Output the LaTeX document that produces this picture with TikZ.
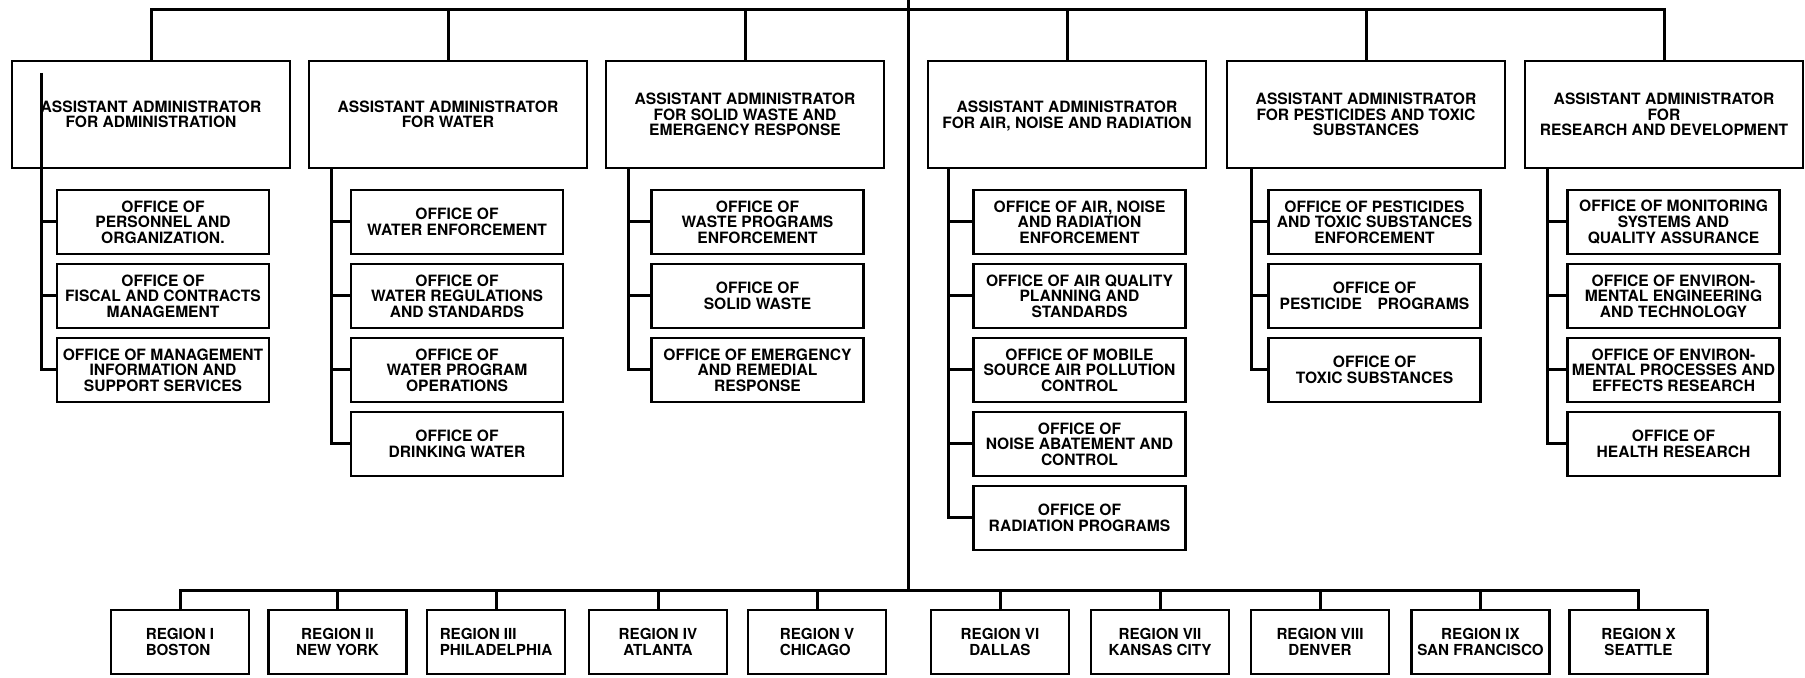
\documentclass[tikz,border=0pt]{standalone}
\usepackage{fontspec}
\setmainfont{TeX Gyre Heros}
\usetikzlibrary{positioning}

\tikzset{
  aabox/.style={draw, line width=1.45pt, minimum width=139pt, minimum height=53.5pt, inner sep=0pt, align=center},
  offbox/.style={draw, line width=1.45pt, minimum width=106pt, minimum height=32pt, inner sep=0pt, align=center},
  regbox/.style={draw, line width=1.45pt, minimum width=69pt, minimum height=32pt, inner sep=0pt, align=center, font=\bfseries\fontsize{7.6}{8.2}\selectfont}
}

\begin{document}
\begin{tikzpicture}[x=0.5pt, y=-0.5pt, font=\bfseries\fontsize{7.8}{7.8}\selectfont, line width=1.5pt]
\useasboundingbox (0,0) rectangle (1805,678);

% assistant administrators
\node (aa1) at (151,114.5) [aabox] {ASSISTANT ADMINISTRATOR\\FOR ADMINISTRATION};
\node (aa2) at (448,114.5) [aabox] {ASSISTANT ADMINISTRATOR\\FOR WATER};
\node (aa3) at (745,114.5) [aabox] {ASSISTANT ADMINISTRATOR\\FOR SOLID WASTE AND\\EMERGENCY RESPONSE};
\node (aa4) at (1067,114.5) [aabox, text depth=-2pt] {ASSISTANT ADMINISTRATOR\\FOR AIR, NOISE AND RADIATION};
\node (aa5) at (1366,114.5) [aabox] {ASSISTANT ADMINISTRATOR\\FOR PESTICIDES AND TOXIC\\SUBSTANCES};
\node (aa6) at (1664,114.5) [aabox] {ASSISTANT ADMINISTRATOR\\FOR\\RESEARCH AND DEVELOPMENT};

% offices under each one
\node (o11) at (163,222) [offbox] {OFFICE OF\\PERSONNEL AND\\ORGANIZATION.};
\node (o12) at (163,296) [offbox] {OFFICE OF\\FISCAL AND CONTRACTS\\MANAGEMENT};
\node (o13) at (163,370) [offbox] {OFFICE OF MANAGEMENT\\INFORMATION AND\\SUPPORT SERVICES};

\node (o21) at (457,222) [offbox] {OFFICE OF\\WATER ENFORCEMENT};
\node (o22) at (457,296) [offbox] {OFFICE OF\\WATER REGULATIONS\\AND STANDARDS};
\node (o23) at (457,370) [offbox] {OFFICE OF\\WATER PROGRAM\\OPERATIONS};
\node (o24) at (457,444) [offbox] {OFFICE OF\\DRINKING WATER};

\node (o31) at (757.5,222) [offbox] {OFFICE OF\\WASTE PROGRAMS\\ENFORCEMENT};
\node (o32) at (757.5,296) [offbox] {OFFICE OF\\SOLID WASTE};
\node (o33) at (757.5,370) [offbox] {OFFICE OF EMERGENCY\\AND REMEDIAL\\RESPONSE};

\node (o41) at (1079.5,222) [offbox] {OFFICE OF AIR, NOISE\\AND RADIATION\\ENFORCEMENT};
\node (o42) at (1079.5,296) [offbox] {OFFICE OF AIR QUALITY\\PLANNING AND\\STANDARDS};
\node (o43) at (1079.5,370) [offbox] {OFFICE OF MOBILE\\SOURCE AIR POLLUTION\\CONTROL};
\node (o44) at (1079.5,444) [offbox] {OFFICE OF\\NOISE ABATEMENT AND\\CONTROL};
\node (o45) at (1079.5,518) [offbox] {OFFICE OF\\RADIATION PROGRAMS};

\node (o51) at (1374.5,222) [offbox] {OFFICE OF PESTICIDES\\AND TOXIC SUBSTANCES\\ENFORCEMENT};
\node (o52) at (1374.5,296) [offbox] {OFFICE OF\\PESTICIDE\quad PROGRAMS};
\node (o53) at (1374.5,370) [offbox] {OFFICE OF\\TOXIC SUBSTANCES};

\node (o61) at (1673.5,222) [offbox] {OFFICE OF MONITORING\\SYSTEMS AND\\QUALITY ASSURANCE};
\node (o62) at (1673.5,296) [offbox] {OFFICE OF ENVIRON-\\MENTAL ENGINEERING\\AND TECHNOLOGY};
\node (o63) at (1673.5,370) [offbox] {OFFICE OF ENVIRON-\\MENTAL PROCESSES AND\\EFFECTS RESEARCH};
\node (o64) at (1673.5,444) [offbox] {OFFICE OF\\HEALTH RESEARCH};

% regional offices
\node (r1) at (180,642) [regbox, align=left] {REGION I\\BOSTON};
\node (r2) at (337.5,642) [regbox] {REGION II\\NEW YORK};
\node (r3) at (496,642) [regbox, align=left] {REGION III\\PHILADELPHIA};
\node (r4) at (658,642) [regbox] {REGION IV\\ATLANTA};
\node (r5) at (817,642) [regbox, align=left] {REGION V\\CHICAGO};
\node (r6) at (1000,642) [regbox] {REGION VI\\DALLAS};
\node (r7) at (1160,642) [regbox] {REGION VII\\KANSAS CITY};
\node (r8) at (1320,642) [regbox] {REGION VIII\\DENVER};
\node (r9) at (1480.5,642) [regbox] {REGION IX\\SAN FRANCISCO};
\node (r10) at (1638.5,642) [regbox] {REGION X\\SEATTLE};

% trunk and the two buses
\coordinate (hq) at (908,0);
\coordinate (bus) at (908,10);
\coordinate (regbus) at (908,590);
\draw (hq) -- (regbus);
\draw (aa1.north) |- (bus) -| (aa6.north);
\draw (aa2.north) -- (aa2.north |- bus);
\draw (aa3.north) -- (aa3.north |- bus);
\draw (aa4.north) -- (aa4.north |- bus);
\draw (aa5.north) -- (aa5.north |- bus);

\draw (r1.north) |- (regbus) -| (r10.north);
\draw (r2.north) -- (r2.north |- regbus);
\draw (r3.north) -- (r3.north |- regbus);
\draw (r4.north) -- (r4.north |- regbus);
\draw (r5.north) -- (r5.north |- regbus);
\draw (r6.north) -- (r6.north |- regbus);
\draw (r7.north) -- (r7.north |- regbus);
\draw (r8.north) -- (r8.north |- regbus);
\draw (r9.north) -- (r9.north |- regbus);

% spines down to the offices
\coordinate (s1) at (41,73);
\draw (s1) |- (o13.west);
\draw (o11.west) -- (o11.west -| s1);
\draw (o12.west) -- (o12.west -| s1);

\coordinate (s2) at (331,168);
\draw (s2) |- (o24.west);
\draw (o21.west) -- (o21.west -| s2);
\draw (o22.west) -- (o22.west -| s2);
\draw (o23.west) -- (o23.west -| s2);

\coordinate (s3) at (628,168);
\draw (s3) |- (o33.west);
\draw (o31.west) -- (o31.west -| s3);
\draw (o32.west) -- (o32.west -| s3);

\coordinate (s4) at (948,168);
\draw (s4) |- (o45.west);
\draw (o41.west) -- (o41.west -| s4);
\draw (o42.west) -- (o42.west -| s4);
\draw (o43.west) -- (o43.west -| s4);
\draw (o44.west) -- (o44.west -| s4);

\coordinate (s5) at (1251,168);
\draw (s5) |- (o53.west);
\draw (o51.west) -- (o51.west -| s5);
\draw (o52.west) -- (o52.west -| s5);

\coordinate (s6) at (1547,168);
\draw (s6) |- (o64.west);
\draw (o61.west) -- (o61.west -| s6);
\draw (o62.west) -- (o62.west -| s6);
\draw (o63.west) -- (o63.west -| s6);
\end{tikzpicture}
\end{document}
